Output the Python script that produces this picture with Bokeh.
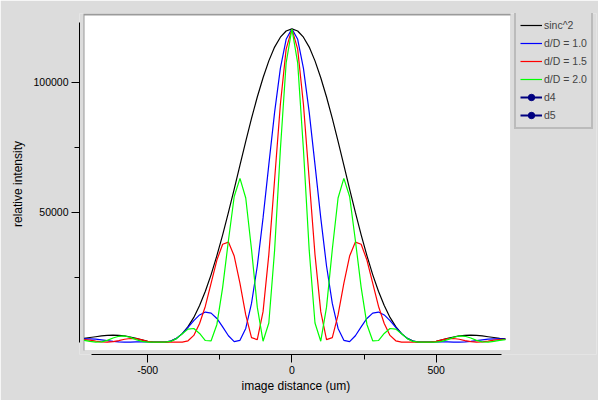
from bokeh.plotting import figure
from bokeh.models import (ColumnDataSource, Range1d, FixedTicker, BoxAnnotation,
                          Legend, LegendItem, PrintfTickFormatter, Title)
from bokeh.embed import file_html
from bokeh.resources import INLINE

# image distance (um), sampled every 20 um
x_um = list(range(-720, 741, 20))

sinc2 = [1500, 1800, 2100, 2400, 2600, 2700, 2600, 2400, 2000, 1500, 900, 300,
         0, 0, 0, 420, 1480, 3290, 5970, 9540, 14100, 19600, 26000, 33300,
         41300, 49900, 58900, 68100, 77200, 86100, 94300, 101700, 108200, 113500,
         117300, 119700,
         120500,
         119700, 117300, 113500, 108200, 101700, 94300, 86100, 77200, 68100, 58900,
         49900, 41300, 33300, 26000, 19600, 14100, 9540, 5970, 3290, 1480, 420,
         0, 0, 0, 300, 900, 1500, 2000, 2400, 2600, 2700, 2600, 2400, 2100, 1800,
         1500, 1300]

dD_1_0 = [1260, 1270, 1160, 930, 620, 310, 90, 0, 40, 140, 180, 100,
          0, 0, 0, 390, 1460, 3290, 5730, 8310, 10490, 11590, 11170, 9130,
          5900, 2470, 220, 710, 5300, 14900, 29300, 47800, 68300, 88400,
          105300, 116500,
          120500,
          116500, 105300, 88400, 68300, 47800, 29300, 14900, 5300, 710, 220,
          2470, 5900, 9130, 11170, 11590, 10490, 8310, 5730, 3290, 1460, 390,
          0, 0, 0, 100, 180, 140, 40, 0, 90, 310, 620, 930, 1160, 1270,
          1260, 1220]

dD_1_5 = [1000, 770, 430, 120, 0, 190, 620, 1130, 1420, 1350, 890, 290,
          0, 0, 0, 70, 50, 10, 540, 2610, 7200, 13850, 22760, 31600,
          37650, 38500, 33120, 22600, 10480, 1740, 980, 11750, 33700, 62500,
          91400, 112700,
          120500,
          112700, 91400, 62500, 33700, 11750, 980, 1740, 10480, 22600, 33120,
          38500, 37650, 31600, 22760, 13850, 7200, 2610, 540, 10, 50, 70,
          0, 0, 0, 290, 890, 1350, 1420, 1130, 620, 190, 0, 120, 430, 770,
          1000, 1130]

dD_2_0 = [700, 310, 20, 120, 710, 1610, 2270, 2400, 1840, 1000, 310, 30,
          0, 0, 0, 300, 1390, 3270, 5030, 5260, 3360, 650, 530, 6830,
          21090, 39120, 56020, 63020, 55460, 35640, 13470, 380, 7400, 35300,
          74000, 107400,
          120500,
          107400, 74000, 35300, 7400, 380, 13470, 35640, 55460, 63020, 56020,
          39120, 21090, 6830, 530, 650, 3360, 5260, 5030, 3270, 1390, 300,
          0, 0, 0, 30, 310, 1000, 1840, 2400, 2270, 1610, 710, 120, 20, 310,
          700, 1010]

# d4 / d5 appear only in the legend (no visible points)
d4_x = [float("nan")]
d4_y = [float("nan")]
d5_x = [float("nan")]
d5_y = [float("nan")]

x_major = [-500, 0, 500]
x_minor = [-250, 250]
y_major = [50000, 100000]
y_minor = [25000, 75000]

series = [("sinc^2", "s", "black"), ("d/D = 1.0", "b", "#0000ff"),
          ("d/D = 1.5", "r", "#ff0000"), ("d/D = 2.0", "g", "#00ff00")]

BG = "#dcdcdc"
EDGE = "#9a9a9a"
FONT = "Liberation Sans"

p = figure(width=598, height=400, output_backend="svg", toolbar_location=None,
           x_range=Range1d(-736.2, 1055.7), y_range=Range1d(-4730, 126420),
           min_border_left=79, min_border_right=2, min_border_top=13,
           min_border_bottom=46)
p.border_fill_color = BG
p.background_fill_color = BG
p.outline_line_color = None
p.xgrid.visible = False
p.ygrid.visible = False

# white plotting box with a darker top/left edge (axes are detached from it)
p.add_layout(BoxAnnotation(left=-722.3, right=757.7, bottom=-3190, fill_color=EDGE,
                           fill_alpha=1, line_color=None, level="underlay"))
p.add_layout(BoxAnnotation(left=-718.8, right=757.7, bottom=-3190, top=125650,
                           fill_color="white", fill_alpha=1, line_color=None,
                           level="underlay"))

src = ColumnDataSource(dict(x=x_um, s=sinc2, b=dD_1_0, r=dD_1_5, g=dD_2_0))
items = []
for label, col, color in series:
    r = p.line("x", col, source=src, line_color=color, line_width=1.2)
    items.append(LegendItem(label=label, renderers=[r]))
for label, xs, ys in [("d4", d4_x, d4_y), ("d5", d5_x, d5_y)]:
    s = ColumnDataSource(dict(x=xs, y=ys))
    rl = p.line("x", "y", source=s, line_color="#000080", line_width=2)
    rm = p.scatter("x", "y", source=s, marker="circle", size=9,
                   fill_color="#000080", line_color="#000080")
    items.append(LegendItem(label=label, renderers=[rl, rm]))

legend = Legend(items=items, location=(435, 225), margin=0, padding=4, spacing=2,
                glyph_width=22, glyph_height=16, label_height=16, label_standoff=2,
                label_text_font=FONT, label_text_font_size="10.5px",
                border_line_color=EDGE, border_line_width=2,
                background_fill_color=BG, background_fill_alpha=1)
p.add_layout(legend)

for ax in (p.xaxis[0], p.yaxis[0]):
    ax.axis_line_color = "black"
    ax.major_tick_line_color = "black"
    ax.minor_tick_line_color = "black"
    ax.major_tick_in = 0
    ax.major_tick_out = 8
    ax.minor_tick_in = 0
    ax.minor_tick_out = 5
    ax.major_label_text_font = FONT
    ax.major_label_text_font_size = "10.5px"
    ax.major_label_text_color = "black"
    ax.axis_label_text_font = FONT
    ax.axis_label_text_font_size = "12px"
    ax.axis_label_text_font_style = "normal"
    ax.axis_label_text_color = "black"
    ax.major_label_standoff = 3
    ax.formatter = PrintfTickFormatter(format="%d")

p.xaxis.ticker = FixedTicker(ticks=x_major, minor_ticks=x_minor)
p.yaxis.ticker = FixedTicker(ticks=y_major, minor_ticks=y_minor)
p.xaxis.bounds = (-695, 725)
p.yaxis.bounds = (0, 123000)
p.yaxis.axis_label = "relative intensity"
p.yaxis.axis_label_standoff = 5

# x-axis title centred under the white plotting box (not under the wider frame)
p.add_layout(Title(text="image distance (um)", align="left", offset=162,
                   text_font=FONT, text_font_size="12px", text_font_style="normal",
                   text_color="black", standoff=0), "below")

open("out.html", "w").write(file_html(p, INLINE))
